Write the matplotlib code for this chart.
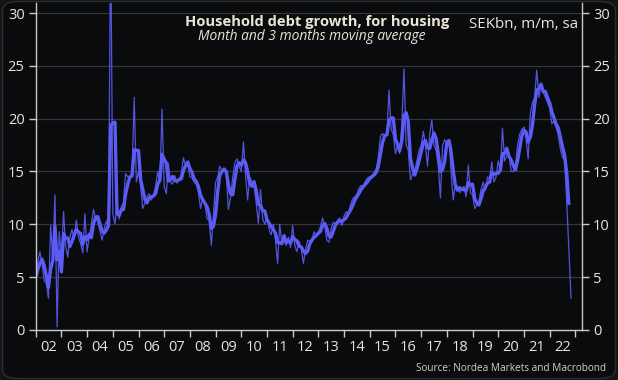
import numpy as np
import pandas as pd
import matplotlib
matplotlib.use("Agg")
from matplotlib import pyplot as plt
import matplotlib.dates as mdates
from matplotlib.patches import FancyBboxPatch

# monthly household debt growth for housing, SEKbn, Jan 2002 - Nov 2022
y2002 = [5.0, 6.5, 7.4, 6.2, 4.7, 4.4, 3.0, 9.9, 6.8, 12.8, 0.3, 9.3]
y2003 = [6.9, 11.2, 8.0, 6.9, 8.8, 9.5, 8.6, 10.4, 8.8, 8.2, 7.3, 11.0]
y2004 = [7.4, 8.8, 10.0, 11.4, 10.6, 10.2, 9.4, 8.5, 9.6, 10.3, 9.8, 38.0]
y2005 = [11.0, 10.0, 12.0, 10.5, 11.7, 12.0, 14.8, 14.5, 14.2, 15.0, 22.0, 14.0]
y2006 = [15.0, 13.6, 11.5, 12.0, 12.6, 12.9, 12.3, 12.8, 13.6, 15.0, 14.0, 20.9]
y2007 = [13.6, 12.9, 15.8, 14.0, 13.8, 14.6, 13.9, 14.2, 14.8, 16.3, 15.5, 15.9]
y2008 = [14.5, 14.4, 14.0, 13.8, 13.0, 11.5, 12.5, 12.0, 10.5, 10.4, 8.0, 11.0]
y2009 = [14.0, 14.5, 15.5, 15.0, 15.2, 14.8, 11.4, 12.5, 14.5, 15.8, 16.2, 15.5]
y2010 = [15.0, 17.8, 14.8, 12.3, 14.5, 14.0, 13.6, 12.0, 10.1, 13.3, 10.5, 10.0]
y2011 = [10.8, 9.5, 9.0, 10.0, 8.5, 6.3, 10.0, 8.2, 8.6, 8.0, 8.8, 7.8]
y2012 = [9.9, 8.0, 7.4, 8.4, 7.8, 6.3, 7.6, 8.5, 8.4, 8.6, 9.3, 8.9]
y2013 = [9.3, 9.8, 10.6, 9.8, 8.5, 8.3, 9.6, 10.2, 10.0, 10.4, 10.6, 9.9]
y2014 = [10.8, 11.2, 11.0, 11.8, 12.4, 12.6, 12.8, 13.4, 13.7, 13.6, 14.1, 14.4]
y2015 = [14.5, 14.6, 14.9, 15.2, 16.3, 18.3, 18.6, 18.3, 18.5, 22.7, 19.0, 18.5]
y2016 = [16.7, 17.5, 16.7, 19.5, 24.7, 17.5, 17.0, 14.2, 14.8, 15.0, 16.0, 17.0]
y2017 = [17.5, 18.8, 17.5, 15.5, 18.5, 19.9, 17.5, 17.0, 15.5, 12.5, 17.5, 18.0]
y2018 = [17.8, 18.0, 15.0, 12.3, 13.8, 13.6, 13.0, 13.3, 13.6, 12.6, 15.6, 13.0]
y2019 = [12.8, 11.5, 11.8, 12.2, 13.3, 14.0, 13.2, 14.5, 14.3, 15.9, 14.0, 14.5]
y2020 = [16.0, 15.0, 19.1, 16.0, 16.5, 16.8, 15.0, 15.0, 15.5, 17.5, 18.5, 19.0]
y2021 = [19.2, 18.0, 16.2, 20.5, 21.5, 22.0, 24.6, 22.0, 23.2, 22.5, 22.0, 21.5]
y2022 = [21.0, 19.5, 19.8, 19.2, 18.5, 17.2, 16.4, 16.0, 12.0, 7.5, 3.0]

monthly = (y2002 + y2003 + y2004 + y2005 + y2006 + y2007 + y2008 + y2009 + y2010
           + y2011 + y2012 + y2013 + y2014 + y2015 + y2016 + y2017 + y2018
           + y2019 + y2020 + y2021 + y2022)
dates = pd.date_range("2002-01-01", periods=len(monthly), freq="MS")
s = pd.Series(monthly, index=dates)
# 3 month moving average (not yet updated with the latest month)
ma = s.rolling(3, min_periods=1).mean().iloc[:-1]

bg = "#0a0b0c"
txt = "#ece4d6"
line_col = "#5b5cf6"
plt.rcParams["font.family"] = ["Open Sans", "DejaVu Sans"]

fig = plt.figure(figsize=(6.18, 3.80), dpi=100, facecolor="#121416")
panel = FancyBboxPatch((0.004, 0.004), 0.992, 0.992, boxstyle="round,pad=0,rounding_size=0.025",
                       transform=fig.transFigure, facecolor=bg, edgecolor="#2a2e31", lw=1.0,
                       zorder=-10)
fig.patches.append(panel)

ax = fig.add_axes([0.0578, 0.1316, 0.8839, 0.8592])
ax.set_facecolor("none")

ax.plot(s.index, s.values, color=line_col, lw=0.9, alpha=0.9)
ax.plot(ma.index, ma.values, color=line_col, lw=2.4, solid_capstyle="butt")

ax.set_ylim(0, 30.9)
ax.set_xlim(pd.Timestamp("2002-01-01"), pd.Timestamp("2023-04-05"))
ax.set_yticks([0, 5, 10, 15, 20, 25, 30])
ax.yaxis.grid(True, color="#33363a", lw=0.9)
ax.set_axisbelow(True)

ax.xaxis.set_major_locator(mdates.YearLocator())
ax.xaxis.set_major_formatter(plt.NullFormatter())
ax.xaxis.set_minor_locator(mdates.MonthLocator(bymonth=7))
ax.xaxis.set_minor_formatter(mdates.DateFormatter("%y"))

for side in ["left", "right", "bottom"]:
    ax.spines[side].set_color("#c9c9c9")
    ax.spines[side].set_linewidth(1.0)
ax.spines["top"].set_visible(False)

ax.tick_params(axis="x", which="major", length=5, color="#c9c9c9", width=1.0)
ax.tick_params(axis="x", which="minor", length=0, pad=7, labelsize=10.5, labelcolor=txt)
ax.tick_params(axis="y", length=5, color="#c9c9c9", width=1.0, labelsize=10.5,
               labelcolor=txt, left=True, right=True, labelleft=True, labelright=True, pad=3)

fig.text(0.513, 0.942, "Household debt growth, for housing", ha="center", va="center",
         fontsize=10.6, fontweight="bold", color=txt)
fig.text(0.505, 0.905, "Month and 3 months moving average", ha="center", va="center",
         fontsize=9.9, style="italic", color=txt)
fig.text(0.936, 0.935, "SEKbn, m/m, sa", ha="right", va="center",
         fontsize=10.9, color=txt)
fig.text(0.98, 0.03, "Source: Nordea Markets and Macrobond", ha="right", va="center",
         fontsize=7.2, color="#d8cfc0")

fig.savefig("out.png", dpi=100, facecolor=fig.get_facecolor())
